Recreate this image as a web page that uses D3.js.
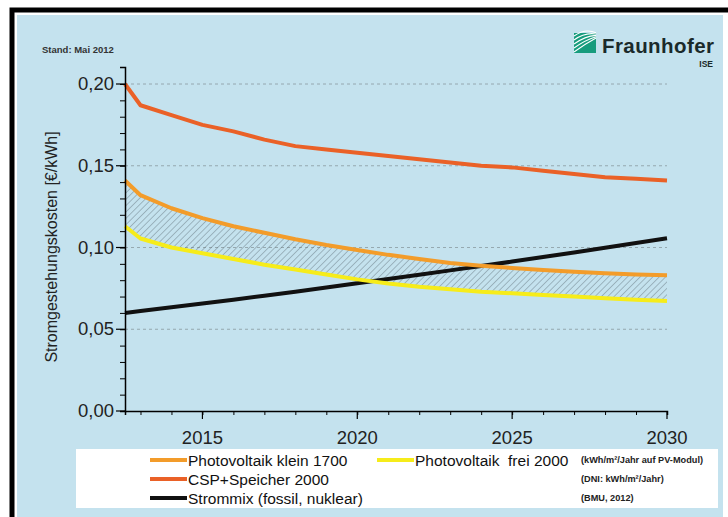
<!DOCTYPE html>
<html lang="de">
  <head>
    <meta charset="UTF-8" />
    <title>Stromgestehungskosten</title>
    <script src="https://cdn.jsdelivr.net/npm/d3@7"></script>
    <style>
      body { margin: 0; background: #fff; }
      svg { display: block; font-family: "Liberation Sans", Arial, sans-serif; }
    </style>
  </head>
  <body>
    <svg width="728" height="517"></svg>
    <script>
      // data (first point sits on the left axis edge)
      const years = [2012.5, 2013, 2014, 2015, 2016, 2017, 2018, 2019, 2020, 2021,
                     2022, 2023, 2024, 2025, 2026, 2027, 2028, 2029, 2030];
      const pvKlein = [0.141, 0.132, 0.124, 0.118, 0.113, 0.109, 0.105, 0.1015, 0.0985, 0.0955,
                       0.093, 0.0905, 0.0888, 0.0875, 0.0862, 0.0851, 0.0842, 0.0835, 0.083];
      const pvFrei = [0.113, 0.1055, 0.100, 0.0965, 0.093, 0.0895, 0.0865, 0.0835, 0.0805, 0.078,
                      0.076, 0.0745, 0.073, 0.072, 0.071, 0.070, 0.069, 0.068, 0.0673];
      const csp = [0.200, 0.187, 0.181, 0.175, 0.171, 0.166, 0.162, 0.160, 0.158, 0.156,
                   0.154, 0.152, 0.150, 0.149, 0.147, 0.145, 0.143, 0.142, 0.141];
      const strommix = [0.0600, 0.0612, 0.0634, 0.0657, 0.0681, 0.0705, 0.0730, 0.0755, 0.0781, 0.0807,
                        0.0833, 0.0860, 0.0887, 0.0914, 0.0942, 0.0970, 0.0998, 0.1027, 0.1056];
      const yTicks = [0, 0.05, 0.10, 0.15, 0.20];
      const xTicks = [2015, 2020, 2025, 2030];

      const svg = d3.select("svg");

      // frame + background
      svg.append("rect").attr("x", 17).attr("y", 15).attr("width", 706).attr("height", 502)
        .attr("fill", "#c4e2ee");
      svg.append("path").attr("d", "M12,517V10H728").attr("fill", "none")
        .attr("stroke", "#000").attr("stroke-width", 5);

      const x = d3.scaleLinear().domain([2012.5, 2030]).range([125, 667]);
      const y = d3.scaleLinear().domain([0, 0.2]).range([411, 84]);

      // hatch pattern
      const pat = svg.append("defs").append("pattern").attr("id", "hatch")
        .attr("patternUnits", "userSpaceOnUse").attr("width", 4.5).attr("height", 4.5)
        .attr("patternTransform", "rotate(45)");
      pat.append("line").attr("x1", 0).attr("y1", 0).attr("x2", 0).attr("y2", 4.5)
        .attr("stroke", "#5f6f76").attr("stroke-width", 0.8);

      // grid
      svg.append("g").selectAll("line").data(yTicks.filter(d => d > 0)).join("line")
        .attr("x1", x(2012.5)).attr("x2", x(2030))
        .attr("y1", d => y(d)).attr("y2", d => y(d))
        .attr("stroke", "#8a9aa0").attr("stroke-width", 0.8).attr("stroke-dasharray", "3,3");

      const rows = years.map((yr, i) => ({ yr, k: pvKlein[i], f: pvFrei[i], c: csp[i], s: strommix[i] }));

      svg.append("path").datum(rows)
        .attr("d", d3.area().x(d => x(d.yr)).y0(d => y(d.f)).y1(d => y(d.k)))
        .attr("fill", "url(#hatch)");

      const line = key => d3.line().x(d => x(d.yr)).y(d => y(d[key]));
      const series = [
        { key: "s", color: "#111" },
        { key: "f", color: "#f6ec1a" },
        { key: "k", color: "#f39c2a" },
        { key: "c", color: "#ea6127" }
      ];
      svg.append("g").selectAll("path").data(series).join("path")
        .attr("d", d => line(d.key)(rows))
        .attr("fill", "none").attr("stroke", d => d.color)
        .attr("stroke-width", 4).attr("stroke-linejoin", "round");

      // axes
      const fmt = d3.format(".2f");
      const yAxis = svg.append("g").attr("transform", `translate(${x(2012.5)},0)`);
      yAxis.call(d3.axisLeft(y.copy().domain([0, 0.2104]).range([411, 67]))
        .tickValues(d3.range(0, 0.2001, 0.01)).tickSize(5).tickFormat(""));
      yAxis.call(g => g.select(".domain").attr("stroke-width", 1.5));
      svg.append("g").selectAll("line").data(yTicks).join("line")
        .attr("x1", x(2012.5) - 9).attr("x2", x(2012.5))
        .attr("y1", d => y(d)).attr("y2", d => y(d)).attr("stroke", "#000").attr("stroke-width", 1.2);
      svg.append("g").selectAll("text").data(yTicks).join("text")
        .attr("x", 114).attr("y", d => y(d) + 6).attr("text-anchor", "end")
        .attr("font-size", 18.5).attr("fill", "#222").text(d => fmt(d).replace(".", ","));

      const xAxis = svg.append("g").attr("transform", `translate(0,${y(0)})`);
      xAxis.call(d3.axisBottom(x).tickValues(d3.range(2013, 2031)).tickSize(4).tickFormat(""));
      xAxis.call(g => g.select(".domain").attr("stroke-width", 1.5));
      svg.append("g").selectAll("line").data(xTicks).join("line")
        .attr("x1", d => x(d)).attr("x2", d => x(d))
        .attr("y1", y(0)).attr("y2", y(0) + 8).attr("stroke", "#000").attr("stroke-width", 1.2);
      svg.append("g").selectAll("text").data(xTicks).join("text")
        .attr("x", d => x(d)).attr("y", 444).attr("text-anchor", "middle")
        .attr("font-size", 18.5).attr("fill", "#222").text(d => d);

      svg.append("text").attr("transform", "translate(57,247) rotate(-90)")
        .attr("text-anchor", "middle").attr("font-size", 16).attr("fill", "#222")
        .text("Stromgestehungskosten [€/kWh]");

      svg.append("text").attr("x", 42).attr("y", 53).attr("font-size", 9.5)
        .attr("font-weight", "bold").attr("fill", "#333").text("Stand: Mai 2012");

      // Fraunhofer logo
      const logo = svg.append("g");
      logo.append("rect").attr("x", 574).attr("y", 33).attr("width", 22).attr("height", 20).attr("fill", "#179c7d");
      [0, 4, 8, 12, 16].forEach(o => {
        logo.append("path").attr("d", `M574,${52 - o} Q${585},${44 - o} 596,${38 - o / 3}`)
          .attr("fill", "none").attr("stroke", "#fff").attr("stroke-width", 1.1);
      });
      logo.append("text").attr("x", 602).attr("y", 53).attr("font-size", 20.5)
        .attr("font-weight", "bold").attr("fill", "#1a2a2a").attr("textLength", 112).text("Fraunhofer");
      logo.append("text").attr("x", 713).attr("y", 67).attr("text-anchor", "end").attr("font-size", 8.5)
        .attr("font-weight", "bold").attr("fill", "#1a2a2a").text("ISE");

      // legend
      svg.append("rect").attr("x", 76).attr("y", 449).attr("width", 642).attr("height", 59).attr("fill", "#fff");
      const legend = [
        { label: "Photovoltaik klein 1700", color: "#f39c2a", lx: 150, ly: 460 },
        { label: "Photovoltaik  frei 2000", color: "#f6ec1a", lx: 377, ly: 460 },
        { label: "CSP+Speicher 2000", color: "#ea6127", lx: 150, ly: 479 },
        { label: "Strommix (fossil, nuklear)", color: "#111", lx: 150, ly: 498 }
      ];
      const lg = svg.append("g").selectAll("g").data(legend).join("g");
      lg.append("line").attr("x1", d => d.lx).attr("x2", d => d.lx + 37)
        .attr("y1", d => d.ly).attr("y2", d => d.ly).attr("stroke", d => d.color).attr("stroke-width", 4);
      lg.append("text").attr("x", d => d.lx + 38).attr("y", d => d.ly + 5.5)
        .attr("font-size", 15.5).attr("fill", "#111").style("white-space", "pre").text(d => d.label);
      const notes = ["(kWh/m²/Jahr auf PV-Modul)", "(DNI: kWh/m²/Jahr)", "(BMU, 2012)"];
      svg.append("g").selectAll("text").data(notes).join("text")
        .attr("x", 581).attr("y", (d, i) => 463 + i * 19).attr("font-size", 9.2)
        .attr("font-weight", "bold").attr("fill", "#222").text(d => d);
    </script>
  </body>
</html>
